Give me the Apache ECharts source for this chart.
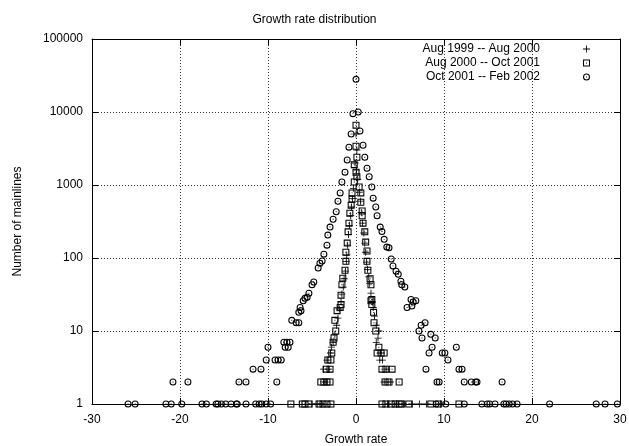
<!DOCTYPE html>
<html><head><meta charset="utf-8">
<script src="https://cdn.jsdelivr.net/npm/echarts@6/dist/echarts.min.js"></script>
<style>html,body{margin:0;padding:0;background:#fff}#c{width:629px;height:446px}</style>
</head><body><div id="c"></div>
<script>
const titleText = 'Growth rate distribution';
const xName = 'Growth rate';
const yName = 'Number of mainlines';
const seriesNames = ['Aug 1999 -- Aug 2000', 'Aug 2000 -- Oct 2001', 'Oct 2001 -- Feb 2002'];
const xMin = -30, xMax = 30, xStep = 10;
const yMin = 1, yMax = 100000;

// Aug 1999 -- Aug 2000 (plus)
const plusData = [[0,5000],[0.1,3000],[-0.1,2000],[0.05,1600],[0.2,1200],[-0.3,900],[0.4,800],[-0.4,650],[0.5,600],[-0.5,500],[0.6,420],[-0.6,380],[0.75,300],[-0.75,280],[0.9,220],[-0.85,210],[1.0,160],[-0.95,150],[1.1,120],[-1.05,110],[1.2,88],[-1.1,90],[1.3,70],[-1.2,66],[1.45,55],[-1.35,52],[1.55,45],[-1.45,40],[1.7,33],[-1.6,32],[1.85,25],[-1.7,25],[1.95,21],[-1.9,20],[2.1,16],[-2.05,15],[2.3,12],[-2.2,12],[2.6,10],[-2.4,9],[2.5,8],[-2.6,7],[2.3,7],[-2.8,6],[2.8,5],[-2.9,5],[3.0,4],[-3.3,4],[2.7,4],[3.5,3],[-3.1,3],[-3.7,3],[3.9,2],[-3.5,2],[3.2,2],[-5.0,1],[-4.4,1],[-3.9,1],[3.6,1],[4.6,1],[5.4,1],[6.4,1],[7.2,1],[8.0,1],[9.6,1]];

// Aug 2000 -- Oct 2001 (square)
const squareData = [[0,6600],[0,3400],[0.1,2400],[-0.2,1900],[0,1500],[0.1,1300],[-0.2,1100],[0.35,940],[-0.45,780],[0.55,780],[-0.45,640],[0.55,580],[-0.55,530],[0.7,440],[-0.7,410],[0.7,380],[0.8,300],[-0.8,300],[-0.9,228],[1.0,228],[-1.0,160],[1.1,165],[-1.15,120],[1.25,125],[-1.15,90],[1.25,90],[-1.25,68],[1.35,68],[-1.5,53],[1.6,52],[-1.6,43],[1.7,43],[-1.7,31],[1.8,27],[-1.7,23],[1.7,26],[1.8,23],[-1.8,21],[-2.15,19],[2.0,18],[-2.4,14],[2.05,13],[-2.3,10],[2.25,10],[-2.5,8],[-2.6,7],[2.6,6],[-2.75,5],[2.4,5],[2.85,5],[3.2,5],[-3.2,4],[-2.85,4],[-3.4,3],[-2.95,3],[2.95,3],[3.4,3],[4.1,3],[-4.0,2],[-3.65,2],[-3.3,2],[-2.95,2],[3.3,2],[3.75,2],[4.9,2],[-7.4,1],[-6.1,1],[-5.8,1],[-5.35,1],[-4.2,1],[-3.75,1],[-3.3,1],[-2.85,1],[2.95,1],[3.4,1],[4.0,1],[4.45,1],[4.9,1],[5.2,1],[6.0,1],[8.5,1],[9.4,1],[11.7,1]];

// Oct 2001 -- Feb 2002 (circle)
const circleData = [[0,28000],[-0.35,9500],[0.25,10000],[-0.55,5000],[0.45,5500],[-0.8,3300],[0.8,3500],[-1.0,2200],[1.0,2400],[-1.25,1500],[1.25,1700],[-1.6,1100],[1.5,1300],[1.8,940],[-1.8,780],[1.95,660],[-2.05,600],[2.25,500],[-2.25,430],[2.4,380],[-2.6,340],[-2.95,265],[2.75,265],[2.95,230],[-3.2,206],[3.2,180],[-3.3,150],[3.5,141],[3.75,138],[-3.65,113],[4.0,97],[-3.85,91],[-4.1,85],[4.2,78],[-4.3,73],[4.55,66],[4.8,60],[-4.8,47],[5.1,48],[-5.0,43],[5.2,43],[5.55,40],[-5.35,33],[-5.55,29],[-5.8,28],[-6.0,26],[6.25,27],[6.5,25],[6.8,26],[6.35,22],[5.8,21],[-6.25,19],[-6.35,21],[-6.5,18],[-7.3,14],[-6.8,13],[-6.5,13],[-8.2,7],[-7.85,7],[-7.5,7],[-8.05,6],[-7.7,6],[-10.0,6],[-10.2,4],[-9.2,4],[-8.85,4],[-8.5,4],[-11.7,3],[-10.8,3],[-20.8,2],[-19.1,2],[-13.3,2],[-12.5,2],[-9.0,2],[-25.9,1],[-25.1,1],[-21.6,1],[-21.0,1],[-19.8,1],[-17.5,1],[-17.0,1],[-15.9,1],[-15.7,1],[-15.3,1],[-14.8,1],[-14.2,1],[-13.6,1],[-13.5,1],[-12.5,1],[-11.4,1],[-11.0,1],[-10.7,1],[-10.2,1],[-9.7,1],[7.85,13],[7.4,12],[7.15,10],[7.5,8],[8.5,9],[9.0,8],[8.65,6],[8.3,5],[9.8,5],[10.1,5],[11.4,6],[10.45,4],[7.95,3],[11.7,3],[12.05,3],[9.2,2],[9.45,2],[12.3,2],[13.1,2],[13.6,2],[13.75,2],[16.6,2],[9.1,1],[10.2,1],[12.3,1],[14.3,1],[14.9,1],[15.2,1],[15.8,1],[16.8,1],[17.05,1],[17.4,1],[17.8,1],[18.3,1],[22.0,1],[27.3,1],[28.3,1],[29.7,1]];

const FONT = 'Liberation Sans, Arial, Helvetica, sans-serif';
const plusPath = 'path://M4.4,0h1.2v10h-1.2zM0,4.4h10v1.2h-10z';
const squarePath = 'path://M0,0h10v10h-10zM1.5,1.5v7h7v-7zM4.3,4.3h1.4v1.4h-1.4z';
const circlePath = 'path://M5,0A5,5,0,1,1,5,10A5,5,0,1,1,5,0ZM5,1.5A3.5,3.5,0,1,0,5,8.5A3.5,3.5,0,1,0,5,1.5ZM4.3,4.3h1.4v1.4h-1.4z';

const chart = echarts.init(document.getElementById('c'), null, {renderer: 'canvas'});
const tickBase = {inside: true, length: 6, lineStyle: {color: '#000', width: 1}};
const lineBase = {show: true, onZero: false, lineStyle: {color: '#000', width: 1}};
const gridLine = {show: true, lineStyle: {color: '#000', width: 1, type: [1, 2], opacity: 0.8}};
function mk(name, data, sym, size) {
  return {name: name, type: 'scatter', data: data, symbol: sym, symbolSize: size,
    itemStyle: {color: '#000', opacity: 1}, emphasis: {disabled: true}, animation: false};
}
chart.setOption({
  animation: false,
  backgroundColor: '#fff',
  title: {text: titleText, left: 'center', top: 9, textStyle: {fontFamily: FONT, fontSize: 12, fontWeight: 'normal', color: '#000'}},
  grid: {left: 92, right: 9, top: 39, bottom: 42, containLabel: false, outerBoundsMode: 'none'},
  legend: {orient: 'vertical', right: 34, top: 37, align: 'right', itemWidth: 7, itemHeight: 7, itemGap: 0,
    selectedMode: false,
    textStyle: {fontFamily: FONT, fontSize: 12, color: '#000', padding: [0, 38, 0, 0], lineHeight: 14},
    data: seriesNames.map(n => ({name: n}))},
  xAxis: [
    {type: 'value', min: xMin, max: xMax, interval: xStep, position: 'bottom',
     axisLine: lineBase, axisTick: tickBase, splitLine: gridLine,
     axisLabel: {color: '#000', fontFamily: FONT, fontSize: 12, margin: 10},
     name: xName, nameLocation: 'middle', nameGap: 30, nameTextStyle: {fontFamily: FONT, fontSize: 12, color: '#000'}},
    {type: 'value', min: xMin, max: xMax, interval: xStep, position: 'top',
     axisLine: lineBase, axisTick: tickBase, splitLine: {show: false}, axisLabel: {show: false}}
  ],
  yAxis: [
    {type: 'log', logBase: 10, min: yMin, max: yMax, position: 'left',
     axisLine: lineBase, axisTick: tickBase, splitLine: gridLine,
     axisLabel: {color: '#000', fontFamily: FONT, fontSize: 12, margin: 9, formatter: v => String(Math.round(v))},
     name: yName, nameLocation: 'middle', nameGap: 68, nameRotate: 90,
     nameTextStyle: {fontFamily: FONT, fontSize: 12, color: '#000'}},
    {type: 'log', logBase: 10, min: yMin, max: yMax, position: 'right',
     axisLine: lineBase, axisTick: tickBase, splitLine: {show: false}, axisLabel: {show: false}}
  ],
  series: [
    mk(seriesNames[0], plusData, plusPath, 7),
    mk(seriesNames[1], squareData, squarePath, 7),
    mk(seriesNames[2], circleData, circlePath, 7)
  ]
});
</script></body></html>
